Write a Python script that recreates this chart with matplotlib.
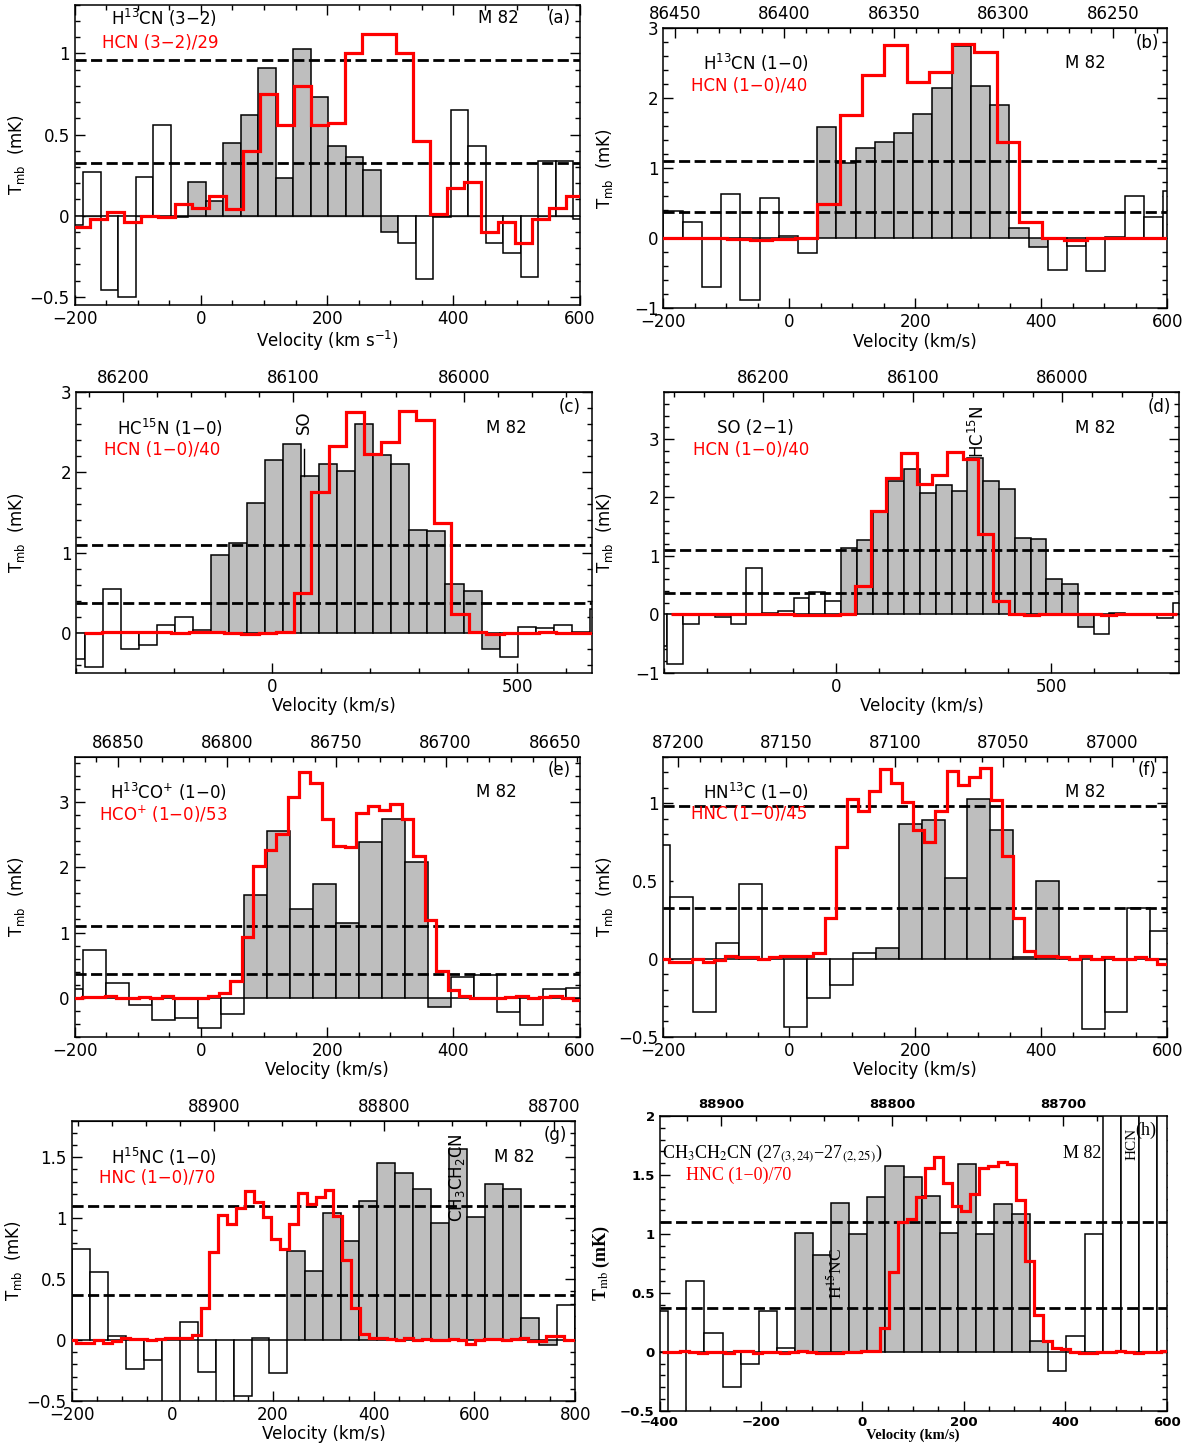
import numpy as np
import matplotlib
matplotlib.use("Agg")
import matplotlib.pyplot as plt
from matplotlib.ticker import MultipleLocator, StrMethodFormatter, FuncFormatter

W, H = 1190, 1449
GRAY = "#bebebe"

# ---------------- (a) H13CN(3-2), HCN(3-2)/29
a_v0, a_dv = -213.8, 27.7
a_tmb = [-0.06, 0.27, -0.46, -0.50, 0.24, 0.56, -0.01, 0.21, 0.09, 0.45,
         0.62, 0.91, 0.23, 1.03, 0.73, 0.43, 0.36, 0.28, -0.10, -0.17,
         -0.39, -0.01, 0.65, 0.43, -0.17, -0.23, -0.38, 0.34, 0.34, -0.02]
a_red_v0, a_red_dv = -203.0, 26.96
a_red = [-0.07, -0.02, 0.02, -0.04, 0.00, -0.01, 0.07, 0.05, 0.12, 0.04,
         0.40, 0.75, 0.56, 0.80, 0.56, 0.57, 1.00, 1.12, 1.12, 1.00,
         0.46, 0.01, 0.17, 0.21, -0.10, -0.04, -0.17, -0.02, 0.05, 0.12]

# HCN(1-0)/40, shared by (b), (c), (d)
hcn_v0, hcn_dv = -384.4, 35.7
hcn10 = [0.00, 0.01, 0.01, 0.01, 0.01, 0.00, 0.01, 0.01, -0.01, -0.02,
         -0.01, 0.01, 0.49, 1.76, 2.33, 2.76, 2.23, 2.38, 2.77, 2.66,
         1.37, 0.23, 0.01, -0.02, 0.00, 0.00, 0.01, 0.00, -0.01, 0.00,
         0.00, 0.01, 0.00]

# ---------------- (b) H13CN(1-0)
b_v0, b_dv = -199.8, 30.5
b_tmb = [0.39, 0.23, -0.69, 0.63, -0.88, 0.57, 0.03, -0.21, 1.59, 1.07,
         1.29, 1.38, 1.50, 1.78, 2.15, 2.74, 2.17, 1.90, 0.14, -0.13,
         -0.45, -0.11, -0.47, 0.02, 0.61, 0.31, 0.68]

# ---------------- (c) HC15N(1-0)
c_v0, c_dv = -419.0, 36.8
c_tmb = [-0.33, -0.43, 0.55, -0.20, -0.16, 0.09, 0.19, 0.03, 0.97, 1.12,
         1.62, 2.15, 2.36, 1.95, 2.11, 2.02, 2.60, 2.22, 2.10, 1.28,
         1.27, 0.61, 0.52, -0.20, -0.30, 0.07, 0.06, 0.09, 0.01, 0.29]

# ---------------- (d) SO(2-1)
d_v0, d_dv = -429.85, 36.75
d_tmb = [-0.55, -0.85, -0.17, 0.00, -0.05, -0.17, 0.80, 0.03, 0.06, 0.28,
         0.39, 0.22, 1.14, 1.28, 1.77, 2.29, 2.48, 2.07, 2.22, 2.11,
         2.67, 2.28, 2.15, 1.31, 1.29, 0.61, 0.52, -0.22, -0.34, 0.02,
         0.00, 0.01, -0.07, 0.20]

# ---------------- (e) H13CO+(1-0), HCO+(1-0)/53
e_v0, e_dv = -222.5, 36.4
e_tmb = [0.13, 0.73, 0.23, -0.12, -0.35, -0.32, -0.47, -0.25, 1.57, 2.56,
         1.36, 1.74, 1.15, 2.39, 2.75, 2.08, -0.14, 0.32, 0.34, -0.22,
         -0.42, 0.14, 0.15]
e_red_v0, e_red_dv = -206.7, 18.1
e_red = [0.00, 0.01, 0.01, 0.02, 0.00, 0.00, 0.01, 0.00, 0.03, 0.00,
         0.00, 0.00, 0.02, 0.07, 0.26, 0.93, 2.02, 2.26, 2.51, 3.08,
         3.47, 3.30, 2.74, 2.33, 2.31, 2.84, 2.94, 2.88, 2.97, 2.74,
         2.18, 1.19, 0.41, 0.11, 0.02, 0.00, 0.00, 0.00, 0.01, 0.03,
         0.00, 0.01, 0.02, 0.00, -0.03]

# HNC(1-0) scaled, shared by (f) and (g)
hnc_v0, hnc_dv = -208.0, 17.6
hnc10 = [0.00, -0.02, -0.02, 0.00, -0.02, -0.01, 0.02, 0.01, 0.01, 0.00,
         0.01, 0.02, 0.02, 0.02, 0.04, 0.26, 0.72, 1.03, 0.95, 1.08,
         1.22, 1.13, 1.01, 0.83, 0.75, 0.95, 1.21, 1.12, 1.17, 1.23,
         1.02, 0.66, 0.26, 0.05, 0.02, 0.02, 0.01, 0.00, 0.02, 0.00,
         0.01, 0.00, 0.00, 0.01, 0.00, -0.03, 0.00, 0.01, 0.01, 0.00,
         0.01, 0.02, -0.01, -0.01, 0.03, 0.03, 0.00, 0.00]

# ---------------- (f) HN13C(1-0)
f_v0, f_dv = -225.5, 36.3
f_tmb = [0.73, 0.40, -0.34, 0.10, 0.48, 0.00, -0.44, -0.25, -0.17, 0.04,
         0.07, 0.87, 0.89, 0.52, 1.03, 0.83, 0.01, 0.50, 0.00, -0.45,
         -0.34, 0.33, 0.18]

# ---------------- (g) H15NC(1-0)
g_v0, g_dv = -199.2, 35.65
g_tmb = [0.75, 0.56, 0.03, -0.24, -0.16, -0.70, 0.15, -0.26, -0.70, -0.46,
         0.02, -0.27, 0.73, 0.57, 1.04, 0.81, 1.14, 1.45, 1.37, 1.24,
         0.96, 1.57, 1.01, 1.28, 1.24, 0.18, -0.04, 0.29, 1.18]

# ---------------- (h) CH3CH2CN, HNC(1-0)/70
h_v0, h_dv = -418.5, 35.7
h_tmb = [0.35, -0.70, 0.60, 0.16, -0.30, -0.10, 0.35, 0.03, 1.01, 0.82,
         1.26, 1.00, 1.31, 1.58, 1.48, 1.32, 1.01, 1.59, 1.00, 1.25,
         1.17, 0.09, -0.16, 0.13, 1.00, 3.00, 3.00, 3.00, 3.00]
h_red_v0, h_red_dv = -395.5, 17.9
h_red = [0.00, 0.00, 0.01, 0.00, -0.01, 0.00, 0.00, -0.01, 0.01, 0.01,
         -0.01, 0.00, 0.00, -0.01, 0.00, 0.01, 0.00, -0.01, -0.01, -0.01,
         0.00, 0.00, 0.01, 0.01, 0.20, 0.68, 1.10, 1.13, 1.31, 1.56,
         1.65, 1.43, 1.24, 1.19, 1.34, 1.56, 1.58, 1.61, 1.59, 1.29,
         0.77, 0.31, 0.09, 0.03, 0.02, 0.00, -0.01, -0.01, 0.00, 0.00,
         0.01, 0.00, -0.01, 0.00, 0.00, 0.01]


def make_axes(fig, left, top, right, bottom):
    return fig.add_axes([left / W, 1 - bottom / H, (right - left) / W, (bottom - top) / H])


def draw_spectrum(ax, v0, dv, tmb, gray_win, red_v0, red_dv, red, levels):
    tmb = np.asarray(tmb)
    edges = v0 + dv * np.arange(len(tmb) + 1)
    cen = edges[:-1] + dv / 2
    inwin = (cen > gray_win[0]) & (cen < gray_win[1])
    colors = [GRAY if k else "white" for k in inwin]
    ax.bar(edges[:-1], tmb, width=dv, align="edge", color=colors,
           edgecolor="k", linewidth=1.1, zorder=2)
    red = np.asarray(red)
    redges = red_v0 + red_dv * np.arange(len(red) + 1)
    ax.stairs(red, redges, color="red", lw=2.3, baseline=None, zorder=4)
    for lev in levels:
        ax.axhline(lev, color="k", ls=(0, (4, 1.6)), lw=2, zorder=3)


num_fmt = FuncFormatter(lambda x, pos: f"{x:g}".replace("-", "\u2212"))


def style_axes(ax, xlim, ylim, xmaj, xmin, ymaj, ymin, top=True, size=12):
    ax.set_xlim(xlim)
    ax.set_ylim(ylim)
    ax.xaxis.set_major_locator(MultipleLocator(xmaj))
    ax.xaxis.set_minor_locator(MultipleLocator(xmin))
    ax.yaxis.set_major_locator(MultipleLocator(ymaj))
    ax.yaxis.set_minor_locator(MultipleLocator(ymin))
    ax.xaxis.set_major_formatter(num_fmt)
    ax.yaxis.set_major_formatter(num_fmt)
    ax.tick_params(which="both", direction="in", top=top, right=True,
                   labelsize=size, width=1)
    ax.tick_params(which="major", length=7)
    ax.tick_params(which="minor", length=3.5)
    for s in ax.spines.values():
        s.set_linewidth(1.1)


def add_freq_axis(ax, f0, k, fmaj, fmin, size=12):
    sec = ax.secondary_xaxis("top", functions=(lambda v: f0 - v / k,
                                                lambda f: (f0 - f) * k))
    sec.xaxis.set_major_locator(MultipleLocator(fmaj))
    sec.xaxis.set_minor_locator(MultipleLocator(fmin))
    sec.xaxis.set_major_formatter(StrMethodFormatter("{x:.0f}"))
    sec.tick_params(which="both", direction="in", labelsize=size, width=1)
    sec.tick_params(which="major", length=7)
    sec.tick_params(which="minor", length=3.5)
    return sec


def labels(ax, black, red, tag, yb=0.872, yr=0.795, xb=0.075, xr=0.054, xm=0.797,
           xt=0.937, yt=0.95, size=12):
    ax.text(xb, yb, black, transform=ax.transAxes, fontsize=size, va="center")
    ax.text(xr, yr, red, transform=ax.transAxes, fontsize=size, va="center", color="red")
    ax.text(xm, yb, "M 82", transform=ax.transAxes, fontsize=size, va="center")
    ax.text(xt, yt, tag, transform=ax.transAxes, fontsize=size, va="center")


def axis_titles(ax, xlab, ylx):
    ax.set_xlabel(xlab, fontsize=12, labelpad=1)
    ax.set_ylabel(YLAB, fontsize=12)
    ax.yaxis.set_label_coords(ylx, 0.5)


fig = plt.figure(figsize=(W / 100, H / 100), dpi=100)
YLAB = r"T$_{\rm mb}$  (mK)"
VLAB = "Velocity (km/s)"

# (a)
ax = make_axes(fig, 74.6, 4.7, 579.8, 305)
ax.axhline(0, color="0.45", lw=1, zorder=1)
draw_spectrum(ax, a_v0, a_dv, a_tmb, (-20, 313), a_red_v0, a_red_dv, a_red, [0.96, 0.325])
style_axes(ax, (-200, 600), (-0.55, 1.30), 200, 50, 0.5, 0.1)
axis_titles(ax, r"Velocity (km s$^{-1}$)", -0.094)
labels(ax, r"H$^{13}$CN (3−2)", "HCN (3−2)/29", "(a)", yb=0.955, yr=0.873, xb=0.072,
       xr=0.055, xm=0.798, xt=0.936, yt=0.955)

# (b)
ax = make_axes(fig, 663.3, 28.3, 1167.3, 308.3)
draw_spectrum(ax, b_v0, b_dv, b_tmb, (44, 411), hcn_v0, hcn_dv, hcn10, [1.1, 0.37])
style_axes(ax, (-200, 600), (-1, 3), 200, 50, 1, 0.2, top=False)
add_freq_axis(ax, 86397.7, 3.476, 50, 10)
axis_titles(ax, VLAB, -0.096)
labels(ax, r"H$^{13}$CN (1−0)", "HCN (1−0)/40", "(b)", yb=0.875, yr=0.794, xb=0.079,
       xr=0.054, xm=0.797, xt=0.9375, yt=0.949)

# (c)
ax = make_axes(fig, 76.4, 392.3, 591.5, 672.7)
draw_spectrum(ax, c_v0, c_dv, c_tmb, (-125, 464), hcn_v0, hcn_dv, hcn10, [1.09, 0.37])
style_axes(ax, (-400, 652), (-0.5, 3), 500, 100, 1, 0.2, top=False)
add_freq_axis(ax, 86112.33, 3.48, 100, 20)
axis_titles(ax, VLAB, -0.096)
labels(ax, r"HC$^{15}$N (1−0)", "HCN (1−0)/40", "(c)", yb=0.872, yr=0.795, xb=0.078,
       xr=0.054, xm=0.795, xt=0.936, yt=0.949)
ax.plot([65, 65], [1.95, 2.29], color="k", lw=1, zorder=3)
ax.text(65, 2.62, "SO", rotation=90, ha="center", va="center", fontsize=12)

# (d)
ax = make_axes(fig, 664.4, 392.3, 1178.7, 672.7)
draw_spectrum(ax, d_v0, d_dv, d_tmb, (11, 599), hcn_v0, hcn_dv, hcn10, [1.1, 0.37])
style_axes(ax, (-400, 797), (-1, 3.8), 500, 100, 1, 0.2, top=False)
add_freq_axis(ax, 86151.26, 3.48, 100, 20)
axis_titles(ax, VLAB, -0.096)
labels(ax, "SO (2−1)", "HCN (1−0)/40", "(d)", yb=0.872, yr=0.795, xb=0.103,
       xr=0.055, xm=0.798, xt=0.939, yt=0.949)
ax.text(330, 2.68, r"HC$^{15}$N", rotation=90, ha="center", va="bottom", fontsize=12)

# (e)
ax = make_axes(fig, 74.6, 756.7, 579.8, 1036.7)
draw_spectrum(ax, e_v0, e_dv, e_tmb, (68, 397), e_red_v0, e_red_dv, e_red, [1.1, 0.37])
style_axes(ax, (-200, 600), (-0.6, 3.7), 200, 50, 1, 0.2, top=False)
add_freq_axis(ax, 86812.03, 3.458, 50, 10)
axis_titles(ax, VLAB, -0.094)
labels(ax, r"H$^{13}$CO$^{+}$ (1−0)", r"HCO$^{+}$ (1−0)/53", "(e)", yb=0.875, yr=0.794,
       xb=0.070, xr=0.048, xm=0.795, xt=0.936, yt=0.952)

# (f)
ax = make_axes(fig, 663.3, 756.7, 1167.3, 1036.7)
draw_spectrum(ax, f_v0, f_dv, f_tmb, (137, 428), hnc_v0, hnc_dv, hnc10, [0.98, 0.33])
style_axes(ax, (-200, 600), (-0.5, 1.3), 200, 50, 0.5, 0.1, top=False)
add_freq_axis(ax, 87148.63, 3.444, 50, 10)
axis_titles(ax, VLAB, -0.096)
labels(ax, r"HN$^{13}$C (1−0)", "HNC (1−0)/45", "(f)", yb=0.875, yr=0.794, xb=0.079,
       xr=0.054, xm=0.797, xt=0.941, yt=0.952)

# (g)
ax = make_axes(fig, 71.6, 1120.7, 575.2, 1401)
draw_spectrum(ax, g_v0, g_dv, g_tmb, (229, 765), hnc_v0, hnc_dv, hnc10, [1.1, 0.37])
style_axes(ax, (-200, 800), (-0.5, 1.8), 200, 50, 0.5, 0.1, top=False)
add_freq_axis(ax, 88924.57, 3.378, 100, 20)
axis_titles(ax, VLAB, -0.0945)
labels(ax, r"H$^{15}$NC (1−0)", "HNC (1−0)/70", "(g)", yb=0.872, yr=0.794, xb=0.078,
       xr=0.054, xm=0.838, xt=0.937, yt=0.949)
ax.text(566, 1.33, r"CH$_3$CH$_2$CN", rotation=90, ha="center", va="center", fontsize=12)

# (h)  -- different plotting style (serif, bold ticks)
ax = make_axes(fig, 659.5, 1116, 1166.5, 1410.7)
draw_spectrum(ax, h_v0, h_dv, h_tmb, (-133, 367), h_red_v0, h_red_dv, h_red, [1.1, 0.37])
style_axes(ax, (-400, 600), (-0.5, 2.0), 200, 50, 0.5, 0.1, top=False, size=9.5)
sec = add_freq_axis(ax, 88817.46, 3.368, 100, 20, size=9.5)
for lab in ax.get_xticklabels() + ax.get_yticklabels() + sec.get_xticklabels():
    lab.set_fontweight("bold")
ax.set_xlabel(VLAB, fontsize=10.5, family="Liberation Serif", fontweight="bold", labelpad=0)
ax.set_ylabel(r"T$_{\rm mb}$ (mK)", fontsize=13, family="Liberation Serif",
              fontweight="bold", math_fontfamily="stix")
ax.yaxis.set_label_coords(-0.094, 0.5)
tx = dict(transform=ax.transAxes, va="center", family="Liberation Serif",
          math_fontfamily="stix", fontsize=13)
ax.text(0.004, 0.873, r"CH$_3$CH$_2$CN (27$_{(3,24)}$−27$_{(2,25)}$)", **tx)
ax.text(0.052, 0.798, "HNC (1−0)/70", color="red", **tx)
ax.text(0.795, 0.873, "M 82", **tx)
ax.text(0.939, 0.952, "(h)", **tx)
ax.text(-52, 0.66, r"H$^{15}$NC", rotation=90, ha="center", va="center",
        family="Liberation Serif", math_fontfamily="stix", fontsize=12.5)
ax.text(532, 1.76, "HCN", rotation=90, ha="center", va="center",
        family="Liberation Serif", fontsize=11)

fig.savefig("out.png", dpi=100)
